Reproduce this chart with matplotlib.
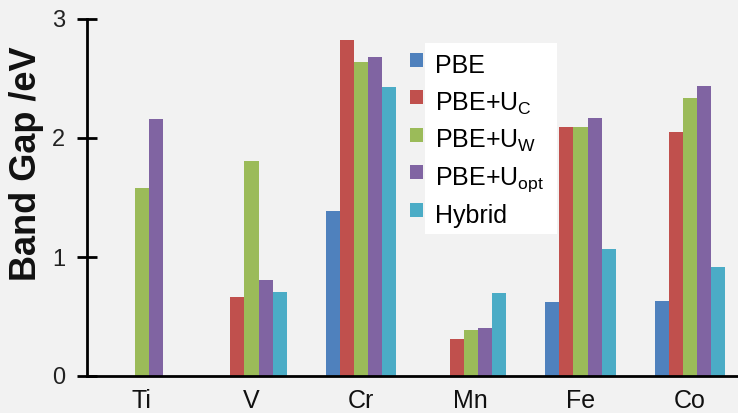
import numpy as np
import matplotlib
matplotlib.use("Agg")
import matplotlib.pyplot as plt
from matplotlib.patches import Rectangle

categories = ["Ti", "V", "Cr", "Mn", "Fe", "Co"]
series_labels = ["PBE", r"PBE+U$_{C}$", r"PBE+U$_{W}$", r"PBE+U$_{opt}$", "Hybrid"]
pbe = [0.0, 0.0, 1.39, 0.0, 0.62, 0.63]
pbe_uc = [0.0, 0.66, 2.82, 0.31, 2.09, 2.05]
pbe_uw = [1.58, 1.81, 2.64, 0.39, 2.09, 2.34]
pbe_uopt = [2.16, 0.81, 2.68, 0.40, 2.17, 2.44]
hybrid = [0.0, 0.71, 2.43, 0.70, 1.07, 0.92]
yticks = [0, 1, 2, 3]

colors = ["#4F81BD", "#C0504D", "#9BBB59", "#8064A2", "#4BACC6"]
series = [pbe, pbe_uc, pbe_uw, pbe_uopt, hybrid]

plt.rcParams["font.family"] = ["Liberation Sans", "DejaVu Sans"]
plt.rcParams["mathtext.fontset"] = "custom"
plt.rcParams["mathtext.rm"] = "Liberation Sans"
plt.rcParams["mathtext.default"] = "regular"

W, H = 738, 413
bg = "#f2f2f2"
fig = plt.figure(figsize=(W / 100, H / 100), dpi=100, facecolor=bg)
ax = fig.add_axes([87 / W, 37 / H, 658 / W, 357 / H])
ax.set_facecolor(bg)

x = np.arange(len(categories))
w = 0.128
for j, (vals, col) in enumerate(zip(series, colors)):
    ax.bar(x + (j - 2) * w, vals, width=w, color=col, linewidth=0, zorder=2)

ax.set_xlim(-0.5, len(categories) - 0.5)
ax.set_ylim(0, 3)
ax.set_yticks(yticks)
ax.set_yticklabels([str(t) for t in yticks], fontsize=17, color="#222222")
ax.set_xticks(x)
ax.set_xticklabels(categories, fontsize=18, color="#111111")
ax.tick_params(axis="x", length=0, pad=9)
ax.tick_params(axis="y", direction="inout", length=15, width=2, pad=8, color="black")
for s in ["top", "right"]:
    ax.spines[s].set_visible(False)
for s in ["left", "bottom"]:
    ax.spines[s].set_linewidth(2)
    ax.spines[s].set_color("black")

fig.text(27 / W, 1 - 164 / H, "Band Gap /eV", rotation=90, fontsize=26,
         fontweight="bold", ha="center", va="center", color="#111111")

# legend
fig.patches.append(Rectangle((425 / W, 1 - 234 / H), 132 / W, 191 / H,
                             transform=fig.transFigure, facecolor="white",
                             edgecolor="none", zorder=1))
for i, (lab, col) in enumerate(zip(series_labels, colors)):
    yc = 60 + i * 37.4
    fig.patches.append(Rectangle((410 / W, 1 - (yc + 7) / H), 13 / W, 14 / H,
                                 transform=fig.transFigure, facecolor=col,
                                 edgecolor="none", zorder=2))
    fig.text(435 / W, 1 - (yc + 13) / H, lab, fontsize=18, ha="left",
             va="baseline", color="black", zorder=3)

fig.savefig("out.png", dpi=100, facecolor=bg)
